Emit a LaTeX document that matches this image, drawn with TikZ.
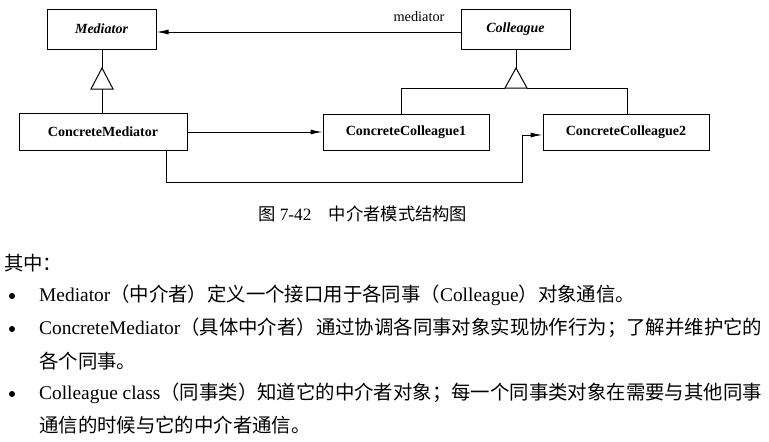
\documentclass[tikz,border=0pt]{standalone}
\usepackage{fontspec}
\setmainfont{Liberation Serif}
\newfontfamily\cjk{Noto Sans CJK SC}
\usetikzlibrary{arrows.meta}
\tikzset{
  cls/.style={draw, line width=1pt, inner sep=0pt, font=\fontsize{14}{16}\selectfont\bfseries},
  arr/.style={line width=1pt, -{Latex[length=12pt,width=5pt]}},
  ln/.style={line width=1pt},
  para/.style={anchor=west, inner sep=0pt, font=\fontsize{19.4}{22}\selectfont},
  dot/.style={circle, fill, inner sep=0pt, minimum size=6pt},
}
\begin{document}
\begin{tikzpicture}[x=1pt,y=1pt]
\useasboundingbox (0,0) rectangle (769,-442);
% classes
\node[cls, minimum width=109pt, minimum height=40pt] (med) at (101.5,-29) {\itshape Mediator};
\node[cls, minimum width=109pt, minimum height=40pt] (col) at (515.5,-29) {\itshape Colleague};
\node[cls, minimum width=168pt, minimum height=37pt] (cm) at (103,-131.5) {ConcreteMediator};
\node[cls, minimum width=166pt, minimum height=36pt] (cc1) at (406,-132) {ConcreteColleague1};
\node[cls, minimum width=166pt, minimum height=36pt] (cc2) at (626,-132) {ConcreteColleague2};
% association Colleague -> Mediator
\draw[arr] ([yshift=-3pt]col.west) -- ([yshift=-3pt]med.east);
\node[inner sep=0pt, font=\fontsize{14.3}{16}\selectfont] (lbl) at (419,-17) {mediator};
% inheritance Mediator
\coordinate (t1) at (102,-68);
\coordinate (t1b) at (102,-89);
\draw[ln] (med.south -| t1) -- (t1);
\draw[ln] (t1) -- (91,-89) -- (113,-89) -- cycle;
\draw[ln] (t1b) -- (cm.north -| t1b);
% inheritance Colleague
\coordinate (t2) at (516,-68);
\coordinate (h1) at (401,-88);
\coordinate (h2) at (627,-88);
\draw[ln] (col.south -| t2) -- (t2);
\draw[ln, fill=white] (t2) -- (505,-88) -- (527,-88) -- cycle;
\draw[ln] (cc1.north -| h1) -- (h1) -- (505,-88);
\draw[ln] (527,-88) -- (h2) -- (cc2.north -| h2);
% ConcreteMediator -> ConcreteColleague1
\draw[arr] (cm.east |- cc1.west) -- (cc1.west);
% ConcreteMediator -> ConcreteColleague2
\coordinate (c1) at (166,-182);
\coordinate (c2) at (522,-182);
\draw[arr] (cm.south -| c1) -- (c1) -- (c2) |- ([yshift=-3pt]cc2.west);
% caption
\node[anchor=west, inner sep=0pt, font=\fontsize{17.3}{19}\selectfont] (cap) at (258,-214) {{\cjk 图} 7-42{\cjk 　中介者模式结构图}};
% description
\node[para] (qz) at (4,-263) {\cjk 其中：};
\node[dot] (d1) at (12,-296) {};
\node[para] (b1) at (39,-295) {Mediator{\cjk （中介者）定义一个接口用于各同事（}Colleague{\cjk ）对象通信。}};
\node[dot] (d2) at (12,-329) {};
\node[para] (b2) at (39,-328) {ConcreteMediator{\cjk （具体中介者）通过协调各同事对象实现协作行为；了解并维护它的}};
\node[para] (b2c) at (39,-361) {\cjk 各个同事。};
\node[dot] (d3) at (12,-394) {};
\node[para] (b3) at (39,-393) {Colleague class{\cjk （同事类）知道它的中介者对象；每一个同事类对象在需要与其他同事}};
\node[para] (b3c) at (39,-425) {\cjk 通信的时候与它的中介者通信。};
\end{tikzpicture}
\end{document}
